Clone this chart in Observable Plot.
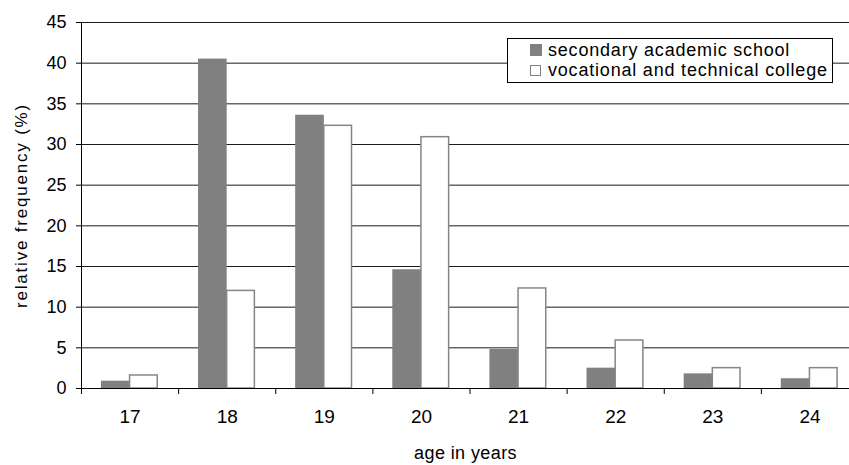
<!DOCTYPE html>
<html>
<head>
<meta charset="utf-8">
<script src="https://cdn.jsdelivr.net/npm/d3@7"></script>
<script src="https://cdn.jsdelivr.net/npm/@observablehq/plot@0.6"></script>
<style>
  html, body { margin: 0; padding: 0; background: #fff; overflow: hidden; }
  #wrap { position: relative; width: 849px; height: 465px; font-family: "Liberation Sans", Arial, sans-serif; }
  .legend { position: absolute; left: 507px; top: 38px; width: 326px; height: 45px; box-sizing: border-box;
            border: 1px solid #000; background: #fff; padding: 1px 0 0 22px; font-size: 18px; letter-spacing: 0.8px; color: #000; }
  .row { height: 20.5px; display: flex; align-items: center; white-space: nowrap; }
  .sw { flex: none; width: 12px; height: 12px; margin-right: 6px; box-sizing: border-box; }
  .sw.a { background: #808080; }
  .sw.b { width: 11px; height: 11px; margin-right: 7px; background: #fff; border: 1px solid #808080; }
</style>
</head>
<body>
<div id="wrap"></div>
<script>
const ages = [17, 18, 19, 20, 21, 22, 23, 24];
const academic = [0.9, 40.5, 33.6, 14.6, 4.8, 2.5, 1.8, 1.2];
const vocational = [1.6, 12.0, 32.3, 30.9, 12.3, 5.9, 2.5, 2.5];
const seriesNames = ["secondary academic school", "vocational and technical college"];
const yTicks = [0, 5, 10, 15, 20, 25, 30, 35, 40, 45];
const boundaries = [16.5, 17.5, 18.5, 19.5, 20.5, 21.5, 22.5, 23.5, 24.5];
const xTitle = "age in years";
const yTitle = "relative frequency (%)";

const rows = ages.map((age, i) => ({age, academic: academic[i], vocational: vocational[i]}));

const chart = Plot.plot({
  width: 849,
  height: 465,
  marginLeft: 81,
  marginRight: 0,
  marginTop: 22,
  marginBottom: 77,
  style: {fontFamily: "Liberation Sans, Arial, sans-serif", fontSize: "18px", color: "#000", background: "#fff"},
  x: {type: "linear", domain: [boundaries[0], boundaries[boundaries.length - 1]], range: [81, 858]},
  y: {domain: [0, 45]},
  marks: [
    Plot.gridY(yTicks, {stroke: "#1a1a1a", strokeOpacity: 1}),
    Plot.rect(rows, {x1: d => d.age - 0.295, x2: d => d.age, y1: 0, y2: "academic", fill: "#808080"}),
    Plot.rect(rows, {x1: d => d.age, x2: d => d.age + 0.285, y1: 0, y2: "vocational", fill: "#fff", stroke: "#868686", strokeWidth: 1.5}),
    Plot.ruleY([0], {stroke: "#000"}),
    Plot.ruleX([boundaries[0]], {stroke: "#000"}),
    Plot.axisY(yTicks, {tickSize: 5, tickPadding: 10, label: null, fontSize: 18}),
    Plot.axisX(boundaries, {tickSize: 6, tickFormat: () => "", label: null}),
    Plot.axisX(ages, {tickSize: 0, tickPadding: 21, label: null, fontSize: 19}),
    Plot.text([yTitle], {frameAnchor: "left", rotate: -90, dx: -60, textAnchor: "middle", lineAnchor: "middle", fontSize: 17}),
    Plot.text([xTitle], {frameAnchor: "bottom", dy: 65, textAnchor: "middle", lineAnchor: "middle", fontSize: 18})
  ]
});

d3.select(chart).selectAll("text")
  .filter(function() { return this.textContent === yTitle; })
  .style("letter-spacing", "1.8px");
d3.select(chart).selectAll("text")
  .filter(function() { return this.textContent === xTitle; })
  .style("letter-spacing", "0.4px");

const wrap = document.getElementById("wrap");
wrap.appendChild(chart);

const legend = document.createElement("div");
legend.className = "legend";
seriesNames.forEach((name, i) => {
  const row = document.createElement("div");
  row.className = "row";
  const sw = document.createElement("span");
  sw.className = "sw " + (i === 0 ? "a" : "b");
  const label = document.createElement("span");
  label.textContent = name;
  row.appendChild(sw);
  row.appendChild(label);
  legend.appendChild(row);
});
wrap.appendChild(legend);
</script>
</body>
</html>
